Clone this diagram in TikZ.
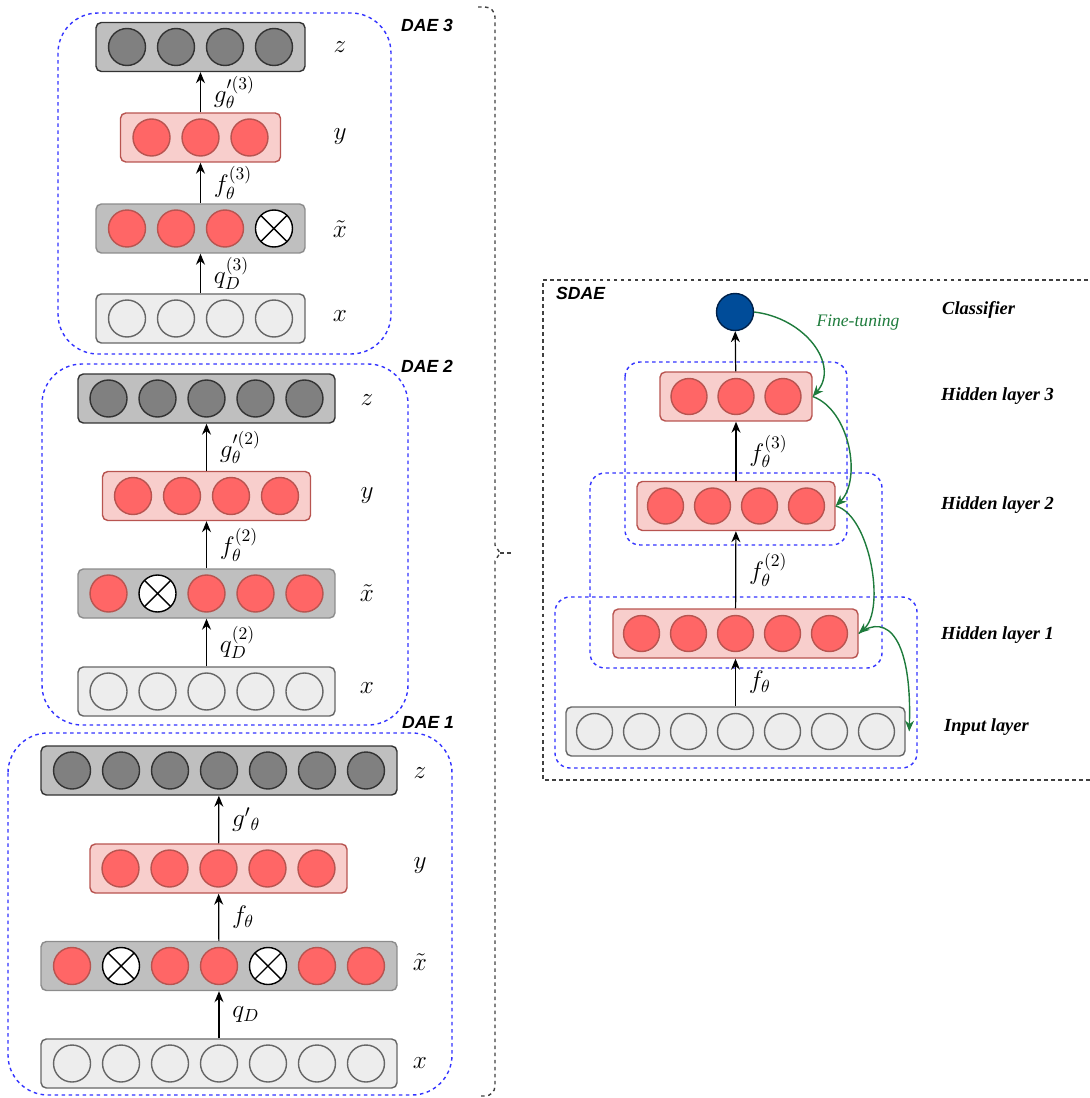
\documentclass[tikz,border=0pt]{standalone}
\usepackage{fontspec}
\setmainfont{Liberation Serif}
\newfontfamily\daefont{Liberation Sans}
\usetikzlibrary{arrows.meta,positioning}

\definecolor{dashblue}{HTML}{3333FF}
\definecolor{ftgreen}{HTML}{1E7B3C}
\definecolor{redfill}{HTML}{FF6666}
\definecolor{redline}{HTML}{B85450}
\definecolor{pinkfill}{HTML}{F8CECC}
\definecolor{clsblue}{HTML}{004C99}
\definecolor{clsline}{HTML}{00214A}

\begin{document}
\begin{tikzpicture}[x=0.02cm, y=-0.02cm,
    bar/.style={draw, rounded corners=3pt, minimum height=0.98cm, line width=0.8pt, inner sep=0pt},
    zbar/.style={bar, fill=black!25, draw=black!80},
    ybar/.style={bar, fill=pinkfill, draw=redline},
    tbar/.style={bar, fill=black!25, draw=black!45},
    xbar/.style={bar, fill=black!7, draw=black!60},
    unit/.style={circle, draw, line width=0.8pt, minimum size=0.74cm, inner sep=0pt},
    zc/.style={unit, fill=black!50, draw=black!80},
    rc/.style={unit, fill=redfill, draw=redline},
    xc/.style={unit, fill=white, draw=black, path picture={
        \draw[line width=0.8pt] (path picture bounding box.north west) -- (path picture bounding box.south east)
                                (path picture bounding box.north east) -- (path picture bounding box.south west);}},
    ic/.style={unit, fill=black!7, draw=black!60},
    arrow/.style={-{Stealth[length=2.2mm,width=1.8mm]}, line width=0.7pt},
    finetune/.style={arrow, ftgreen, line width=0.8pt},
    group/.style={draw=dashblue, dash pattern=on 2pt off 2pt, line width=0.8pt, rounded corners=0.8cm},
    subgroup/.style={group, rounded corners=0.3cm},
    outline/.style={draw=black!75, dash pattern=on 2pt off 2pt, line width=0.8pt},
    lbl/.style={font=\fontsize{14.5}{16}\selectfont},
    fn/.style={font=\fontsize{14}{16}\selectfont, right=0.14cm},
    daelbl/.style={font=\daefont\bfseries\itshape},
    layerlbl/.style={anchor=west, font=\fontsize{10.5}{12}\selectfont\bfseries\itshape}
]
\useasboundingbox (0,0) rectangle (1089,1098);

% DAE 3
\draw[group] (58,13) rectangle (391,354);
\node[daelbl] (dae3) at (427,25) {DAE 3};
\node[zbar, minimum width=4.18cm] (d3z) at (200.5,47) {};
\node[ybar, minimum width=3.2cm] (d3y) at (200.5,137.5) {};
\node[tbar, minimum width=4.18cm] (d3t) at (200.5,228.5) {};
\node[xbar, minimum width=4.18cm] (d3x) at (200.5,318.5) {};
\foreach \i in {1,...,4} \node[zc] (d3z-\i) at ([xshift={(\i-2.5)*0.98cm}]d3z.center) {};
\foreach \i in {1,...,3} \node[rc] (d3y-\i) at ([xshift={(\i-2)*0.98cm}]d3y.center) {};
\foreach \s [count=\i] in {rc,rc,rc,xc} \node[\s] (d3t-\i) at ([xshift={(\i-2.5)*0.98cm}]d3t.center) {};
\foreach \i in {1,...,4} \node[ic] (d3x-\i) at ([xshift={(\i-2.5)*0.98cm}]d3x.center) {};
\draw[arrow] (d3x) -- (d3t) node[midway, fn] {$q_D^{(3)}$};
\draw[arrow] (d3t) -- (d3y) node[midway, fn] {$f_\theta^{(3)}$};
\draw[arrow] (d3y) -- (d3z) node[midway, fn] {$g'^{(3)}_\theta$};
\node[lbl] (d3zl) at (340,47) {$z$};
\node[lbl] (d3yl) at (340,137) {$y$};
\node[lbl] (d3tl) at (340,229) {$\tilde{x}$};
\node[lbl] (d3xl) at (340,316) {$x$};

% DAE 2
\draw[group] (42,364) rectangle (408,725);
\node[daelbl] (dae2) at (427,366) {DAE 2};
\node[zbar, minimum width=5.14cm] (d2z) at (206.5,398.5) {};
\node[ybar, minimum width=4.16cm] (d2y) at (206.5,496) {};
\node[tbar, minimum width=5.14cm] (d2t) at (206.5,593.5) {};
\node[xbar, minimum width=5.14cm] (d2x) at (206.5,691.5) {};
\foreach \i in {1,...,5} \node[zc] (d2z-\i) at ([xshift={(\i-3)*0.98cm}]d2z.center) {};
\foreach \i in {1,...,4} \node[rc] (d2y-\i) at ([xshift={(\i-2.5)*0.98cm}]d2y.center) {};
\foreach \s [count=\i] in {rc,xc,rc,rc,rc} \node[\s] (d2t-\i) at ([xshift={(\i-3)*0.98cm}]d2t.center) {};
\foreach \i in {1,...,5} \node[ic] (d2x-\i) at ([xshift={(\i-3)*0.98cm}]d2x.center) {};
\draw[arrow] (d2x) -- (d2t) node[midway, fn] {$q_D^{(2)}$};
\draw[arrow] (d2t) -- (d2y) node[midway, fn] {$f_\theta^{(2)}$};
\draw[arrow] (d2y) -- (d2z) node[midway, fn] {$g'^{(2)}_\theta$};
\node[lbl] (d2zl) at (367,400) {$z$};
\node[lbl] (d2yl) at (367,496) {$y$};
\node[lbl] (d2tl) at (367,593) {$\tilde{x}$};
\node[lbl] (d2xl) at (367,688) {$x$};

% DAE 1
\draw[group] (8,733) rectangle (452,1095);
\node[daelbl] (dae1) at (428,722) {DAE 1};
\node[zbar, minimum width=7.12cm] (d1z) at (219,770.5) {};
\node[ybar, minimum width=5.14cm] (d1y) at (218.5,868.5) {};
\node[tbar, minimum width=7.12cm] (d1t) at (219,966) {};
\node[xbar, minimum width=7.12cm] (d1x) at (219,1063.5) {};
\foreach \i in {1,...,7} \node[zc] (d1z-\i) at ([xshift={(\i-4)*0.98cm}]d1z.center) {};
\foreach \i in {1,...,5} \node[rc] (d1y-\i) at ([xshift={(\i-3)*0.98cm}]d1y.center) {};
\foreach \s [count=\i] in {rc,xc,rc,rc,xc,rc,rc} \node[\s] (d1t-\i) at ([xshift={(\i-4)*0.98cm}]d1t.center) {};
\foreach \i in {1,...,7} \node[ic] (d1x-\i) at ([xshift={(\i-4)*0.98cm}]d1x.center) {};
\draw[arrow] (d1x) -- (d1t) node[midway, fn] {$q_D$};
\draw[arrow] (d1t) -- (d1y) node[midway, fn] {$f_\theta$};
\draw[arrow] (d1y) -- (d1z) node[midway, fn] {$g'{}_\theta$};
\node[lbl] (d1zl) at (420,773) {$z$};
\node[lbl] (d1yl) at (420,866) {$y$};
\node[lbl] (d1tl) at (420,962) {$\tilde{x}$};
\node[lbl] (d1xl) at (420,1063) {$x$};

% brace over the three DAEs
\coordinate (btip) at (500,553);
\coordinate (bend) at (512,553);
\draw[outline] (478,7) [rounded corners=0.2cm] -- (495,7) -- (495,300) [sharp corners] -- (495,545) -- (btip)
    -- (495,561) [rounded corners=0.2cm] -- (495,1096) -- (478,1096);
\draw[outline] (btip) -- (bend);

% SDAE
\draw[outline] (1095,280) -- (543,280) -- (543,780) -- (1095,780);
\node[daelbl, anchor=west] (sdae) at (550,293) {SDAE};
\draw[subgroup] (625,362) rectangle (847,545);
\draw[subgroup] (590,473) rectangle (882,668);
\draw[subgroup] (555,597) rectangle (917,768);

\node[unit, fill=clsblue, draw=clsline] (cls) at (735,312) {};
\node[ybar, minimum width=3.04cm] (h3) at (736,396.5) {};
\node[ybar, minimum width=3.96cm] (h2) at (736,506) {};
\node[ybar, minimum width=4.9cm] (h1) at (735.5,633.5) {};
\node[xbar, minimum width=6.78cm] (in) at (735.5,731.5) {};
\foreach \i in {1,...,3} \node[rc, minimum size=0.72cm] (h3-\i) at ([xshift={(\i-2)*0.94cm}]h3.center) {};
\foreach \i in {1,...,4} \node[rc, minimum size=0.72cm] (h2-\i) at ([xshift={(\i-2.5)*0.94cm}]h2.center) {};
\foreach \i in {1,...,5} \node[rc, minimum size=0.72cm] (h1-\i) at ([xshift={(\i-3)*0.94cm}]h1.center) {};
\foreach \i in {1,...,7} \node[ic, minimum size=0.72cm] (in-\i) at ([xshift={(\i-4)*0.94cm}]in.center) {};

\draw[arrow] (in) -- (h1) node[midway, fn] {$f_\theta$};
\draw[arrow] (h1) -- (h2) node[midway, fn] {$f_\theta^{(2)}$};
\draw[arrow] (h2) -- (h3) node[midway, fn] {$f_\theta^{(3)}$};
\draw[arrow] (h3) -- (cls);

% fine-tuning
\draw[finetune] (cls.east) .. controls (805,318) and (840,365) .. (h3.east);
\draw[finetune] (h3.east) .. controls (850,410) and (862,480) .. (h2.east);
\draw[finetune] (h2.east) .. controls (870,515) and (886,610) .. (h1.east);
\draw[finetune] (h1.east) .. controls (888,612) and (912,640) .. ([xshift=2pt]in.east);
\node[ftgreen, font=\itshape] (ftl) at (858,323) {Fine-tuning};

\node[layerlbl] (clsl) at (936,310) {Classifier};
\node[layerlbl] (h3l) at (935,396) {Hidden layer 3};
\node[layerlbl] (h2l) at (935,505) {Hidden layer 2};
\node[layerlbl] (h1l) at (935,635) {Hidden layer 1};
\node[layerlbl] (inl) at (938,727) {Input layer};

\end{tikzpicture}
\end{document}
